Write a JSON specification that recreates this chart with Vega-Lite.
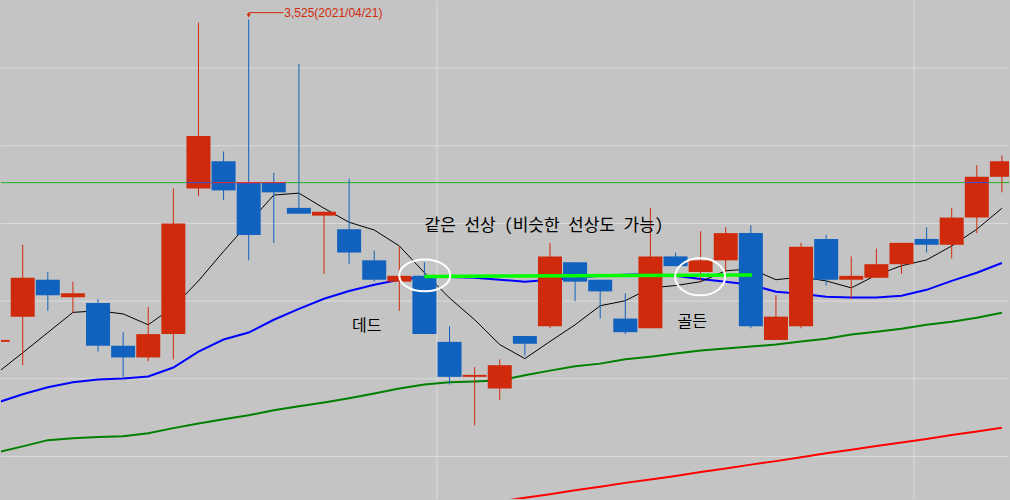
{
  "$schema": "https://vega.github.io/schema/vega-lite/v6.json",
  "description": "Candlestick chart with 5/20/60/120 moving averages and dead/golden cross notes",
  "width": 1010,
  "height": 500,
  "autosize": {"type": "fit", "contains": "padding"},
  "padding": 0,
  "background": "#c4c4c4",
  "config": {"view": {"stroke": null}},
  "datasets": {
    "candles": [
      {"i": 0, "o": 2695, "h": 2700, "l": 2695, "c": 2700, "m5": 2616, "m20": 2539, "m60": 2411},
      {"i": 1, "o": 2760, "h": 2945, "l": 2635, "c": 2860, "m5": 2667, "m20": 2560, "m60": 2426},
      {"i": 2, "o": 2855, "h": 2875, "l": 2775, "c": 2815, "m5": 2719, "m20": 2578, "m60": 2442},
      {"i": 3, "o": 2810, "h": 2850, "l": 2770, "c": 2820, "m5": 2771, "m20": 2591, "m60": 2447},
      {"i": 4, "o": 2795, "h": 2805, "l": 2670, "c": 2685, "m5": 2775, "m20": 2598, "m60": 2450},
      {"i": 5, "o": 2685, "h": 2720, "l": 2605, "c": 2655, "m5": 2767, "m20": 2601, "m60": 2452},
      {"i": 6, "o": 2655, "h": 2785, "l": 2645, "c": 2715, "m5": 2739, "m20": 2606, "m60": 2460},
      {"i": 7, "o": 2715, "h": 3090, "l": 2650, "c": 3000, "m5": 2785, "m20": 2629, "m60": 2473},
      {"i": 8, "o": 3090, "h": 3517, "l": 3070, "c": 3225, "m5": 2852, "m20": 2670, "m60": 2485},
      {"i": 9, "o": 3160, "h": 3185, "l": 3060, "c": 3085, "m5": 2928, "m20": 2701, "m60": 2496},
      {"i": 10, "o": 3105, "h": 3525, "l": 2905, "c": 2970, "m5": 3001, "m20": 2719, "m60": 2506},
      {"i": 11, "o": 3105, "h": 3130, "l": 2950, "c": 3080, "m5": 3073, "m20": 2752, "m60": 2519},
      {"i": 12, "o": 3040, "h": 3410, "l": 3025, "c": 3025, "m5": 3078, "m20": 2780, "m60": 2529},
      {"i": 13, "o": 3020, "h": 3030, "l": 2870, "c": 3030, "m5": 3039, "m20": 2806, "m60": 2539},
      {"i": 14, "o": 2985, "h": 3115, "l": 2895, "c": 2925, "m5": 3003, "m20": 2826, "m60": 2550},
      {"i": 15, "o": 2905, "h": 2930, "l": 2850, "c": 2855, "m5": 2983, "m20": 2842, "m60": 2562},
      {"i": 16, "o": 2850, "h": 2940, "l": 2775, "c": 2865, "m5": 2942, "m20": 2855, "m60": 2575},
      {"i": 17, "o": 2865, "h": 2900, "l": 2715, "c": 2715, "m5": 2873, "m20": 2862, "m60": 2585},
      {"i": 18, "o": 2695, "h": 2735, "l": 2585, "c": 2605, "m5": 2808, "m20": 2862, "m60": 2591},
      {"i": 19, "o": 2605, "h": 2630, "l": 2480, "c": 2610, "m5": 2752, "m20": 2860, "m60": 2593},
      {"i": 20, "o": 2575, "h": 2650, "l": 2545, "c": 2635, "m5": 2688, "m20": 2855, "m60": 2596, "m120": 2284},
      {"i": 21, "o": 2710, "h": 2710, "l": 2660, "c": 2690, "m5": 2652, "m20": 2850, "m60": 2609, "m120": 2294},
      {"i": 22, "o": 2735, "h": 2950, "l": 2730, "c": 2915, "m5": 2696, "m20": 2855, "m60": 2621, "m120": 2303},
      {"i": 23, "o": 2900, "h": 2900, "l": 2800, "c": 2850, "m5": 2739, "m20": 2860, "m60": 2632, "m120": 2313},
      {"i": 24, "o": 2855, "h": 2855, "l": 2755, "c": 2825, "m5": 2788, "m20": 2865, "m60": 2639, "m120": 2322},
      {"i": 25, "o": 2755, "h": 2820, "l": 2715, "c": 2720, "m5": 2801, "m20": 2868, "m60": 2650, "m120": 2332},
      {"i": 26, "o": 2730, "h": 3040, "l": 2730, "c": 2915, "m5": 2834, "m20": 2870, "m60": 2657, "m120": 2341},
      {"i": 27, "o": 2915, "h": 2925, "l": 2890, "c": 2890, "m5": 2840, "m20": 2865, "m60": 2665, "m120": 2350},
      {"i": 28, "o": 2875, "h": 2980, "l": 2850, "c": 2905, "m5": 2850, "m20": 2857, "m60": 2673, "m120": 2360},
      {"i": 29, "o": 2905, "h": 2990, "l": 2875, "c": 2975, "m5": 2878, "m20": 2850, "m60": 2678, "m120": 2369},
      {"i": 30, "o": 2975, "h": 2995, "l": 2730, "c": 2735, "m5": 2883, "m20": 2842, "m60": 2683, "m120": 2379},
      {"i": 31, "o": 2700, "h": 2815, "l": 2700, "c": 2760, "m5": 2855, "m20": 2824, "m60": 2688, "m120": 2388},
      {"i": 32, "o": 2735, "h": 2950, "l": 2730, "c": 2940, "m5": 2862, "m20": 2819, "m60": 2696, "m120": 2398},
      {"i": 33, "o": 2960, "h": 2970, "l": 2840, "c": 2855, "m5": 2852, "m20": 2811, "m60": 2703, "m120": 2408},
      {"i": 34, "o": 2855, "h": 2915, "l": 2805, "c": 2865, "m5": 2834, "m20": 2809, "m60": 2714, "m120": 2417},
      {"i": 35, "o": 2860, "h": 2935, "l": 2860, "c": 2895, "m5": 2867, "m20": 2809, "m60": 2721, "m120": 2427},
      {"i": 36, "o": 2895, "h": 2950, "l": 2870, "c": 2950, "m5": 2891, "m20": 2814, "m60": 2729, "m120": 2436},
      {"i": 37, "o": 2960, "h": 2990, "l": 2925, "c": 2945, "m5": 2906, "m20": 2829, "m60": 2739, "m120": 2445},
      {"i": 38, "o": 2945, "h": 3040, "l": 2910, "c": 3015, "m5": 2942, "m20": 2852, "m60": 2747, "m120": 2455},
      {"i": 39, "o": 3015, "h": 3150, "l": 2975, "c": 3120, "m5": 2985, "m20": 2873, "m60": 2757, "m120": 2464},
      {"i": 40, "o": 3120, "h": 3175, "l": 3080, "c": 3160, "m5": 3039, "m20": 2898, "m60": 2770, "m120": 2474}
    ],
    "hgrid": [{"p": 2400}, {"p": 2600}, {"p": 2800}, {"p": 3000}, {"p": 3200}, {"p": 3400}],
    "vgrid": [{"i": 17.5}, {"i": 36.5}],
    "level": [{"i": 17.0, "p": 2863.6}, {"i": 30.05, "p": 2867.5}],
    "leader": [
      {"i": 10, "i2": 11.38, "p": 3542.6, "p2": 3542.6},
      {"i": 10, "i2": 10, "p": 3542.6, "p2": 3537}
    ]
  },
  "layer": [
    {
      "data": {"name": "hgrid"},
      "mark": {"type": "rule", "color": "#dcdcdc", "strokeWidth": 1},
      "encoding": {
        "y": {"field": "p", "type": "quantitative", "scale": {"domain": [2290.5, 3572.6], "nice": false, "zero": false}, "axis": null}
      }
    },
    {
      "data": {"name": "vgrid"},
      "mark": {"type": "rule", "color": "#dcdcdc", "strokeWidth": 1},
      "encoding": {
        "x": {"field": "i", "type": "quantitative", "scale": {"domain": [0.3345, 40.083], "nice": false, "zero": false}, "axis": null}
      }
    },
    {
      "data": {"values": [{"p": 3105}]},
      "mark": {"type": "rule", "color": "#22b422", "strokeWidth": 1},
      "encoding": {
        "y": {"field": "p", "type": "quantitative", "scale": {"domain": [2290.5, 3572.6], "nice": false, "zero": false}, "axis": null}
      }
    },
    {
      "data": {"name": "candles"},
      "transform": [{"filter": "isValid(datum.m120)"}],
      "mark": {"type": "line", "color": "#ff0000", "strokeWidth": 2, "clip": true},
      "encoding": {
        "x": {"field": "i", "type": "quantitative", "scale": {"domain": [0.3345, 40.083], "nice": false, "zero": false}, "axis": null},
        "y": {"field": "m120", "type": "quantitative", "scale": {"domain": [2290.5, 3572.6], "nice": false, "zero": false}, "axis": null}
      }
    },
    {
      "data": {"name": "candles"},
      "mark": {"type": "line", "color": "#008000", "strokeWidth": 2, "clip": true},
      "encoding": {
        "x": {"field": "i", "type": "quantitative", "scale": {"domain": [0.3345, 40.083], "nice": false, "zero": false}, "axis": null},
        "y": {"field": "m60", "type": "quantitative", "scale": {"domain": [2290.5, 3572.6], "nice": false, "zero": false}, "axis": null}
      }
    },
    {
      "data": {"name": "candles"},
      "mark": {"type": "line", "color": "#0000ff", "strokeWidth": 2, "clip": true},
      "encoding": {
        "x": {"field": "i", "type": "quantitative", "scale": {"domain": [0.3345, 40.083], "nice": false, "zero": false}, "axis": null},
        "y": {"field": "m20", "type": "quantitative", "scale": {"domain": [2290.5, 3572.6], "nice": false, "zero": false}, "axis": null}
      }
    },
    {
      "data": {"name": "candles"},
      "mark": {"type": "line", "color": "#000000", "strokeWidth": 1, "clip": true},
      "encoding": {
        "x": {"field": "i", "type": "quantitative", "scale": {"domain": [0.3345, 40.083], "nice": false, "zero": false}, "axis": null},
        "y": {"field": "m5", "type": "quantitative", "scale": {"domain": [2290.5, 3572.6], "nice": false, "zero": false}, "axis": null}
      }
    },
    {
      "data": {"name": "candles"},
      "mark": {"type": "rule", "strokeWidth": 1, "clip": true},
      "encoding": {
        "x": {"field": "i", "type": "quantitative", "scale": {"domain": [0.3345, 40.083], "nice": false, "zero": false}, "axis": null},
        "y": {"field": "l", "type": "quantitative", "scale": {"domain": [2290.5, 3572.6], "nice": false, "zero": false}, "axis": null},
        "y2": {"field": "h"},
        "color": {"condition": {"test": "datum.c > datum.o", "value": "#d02a0c"}, "value": "#1062be"}
      }
    },
    {
      "data": {"name": "candles"},
      "mark": {"type": "bar", "width": 24, "clip": true},
      "encoding": {
        "x": {"field": "i", "type": "quantitative", "scale": {"domain": [0.3345, 40.083], "nice": false, "zero": false}, "axis": null},
        "y": {"field": "o", "type": "quantitative", "scale": {"domain": [2290.5, 3572.6], "nice": false, "zero": false}, "axis": null},
        "y2": {"field": "c"},
        "color": {"condition": {"test": "datum.c > datum.o", "value": "#d02a0c"}, "value": "#1062be"}
      }
    },
    {
      "data": {"name": "candles"},
      "transform": [{"filter": "min(datum.o, datum.c) <= 3105 && max(datum.o, datum.c) >= 3105"}],
      "mark": {"type": "bar", "width": 24, "clip": true},
      "encoding": {
        "x": {"field": "i", "type": "quantitative", "scale": {"domain": [0.3345, 40.083], "nice": false, "zero": false}, "axis": null},
        "y": {"datum": 3106.3, "type": "quantitative", "scale": {"domain": [2290.5, 3572.6], "nice": false, "zero": false}, "axis": null},
        "y2": {"datum": 3103.7},
        "color": {"condition": {"test": "datum.c > datum.o", "value": "#3355dd"}, "value": "#e8283c"}
      }
    },
    {
      "data": {"name": "level"},
      "mark": {"type": "line", "color": "#00ff00", "strokeWidth": 3.5},
      "encoding": {
        "x": {"field": "i", "type": "quantitative", "scale": {"domain": [0.3345, 40.083], "nice": false, "zero": false}, "axis": null},
        "y": {"field": "p", "type": "quantitative", "scale": {"domain": [2290.5, 3572.6], "nice": false, "zero": false}, "axis": null}
      }
    },
    {
      "data": {"values": [{"i": 17.01, "p": 2866.2}]},
      "mark": {"type": "point", "filled": false, "stroke": "#ffffff", "strokeWidth": 2, "opacity": 1, "size": 2601, "shape": "M -1 0 A 1 0.627 0 1 1 1 0 A 1 0.627 0 1 1 -1 0 Z"},
      "encoding": {
        "x": {"field": "i", "type": "quantitative", "scale": {"domain": [0.3345, 40.083], "nice": false, "zero": false}, "axis": null},
        "y": {"field": "p", "type": "quantitative", "scale": {"domain": [2290.5, 3572.6], "nice": false, "zero": false}, "axis": null}
      }
    },
    {
      "data": {"values": [{"i": 27.98, "p": 2862.4}]},
      "mark": {"type": "point", "filled": false, "stroke": "#ffffff", "strokeWidth": 2, "opacity": 1, "size": 2500, "shape": "M -1 0 A 1 0.74 0 1 1 1 0 A 1 0.74 0 1 1 -1 0 Z"},
      "encoding": {
        "x": {"field": "i", "type": "quantitative", "scale": {"domain": [0.3345, 40.083], "nice": false, "zero": false}, "axis": null},
        "y": {"field": "p", "type": "quantitative", "scale": {"domain": [2290.5, 3572.6], "nice": false, "zero": false}, "axis": null}
      }
    },
    {
      "data": {"values": [{"i": 21.76, "p": 2993, "t": "같은 선상 (비슷한 선상도 가능)"}]},
      "mark": {"type": "text", "font": "'Noto Sans Mono CJK KR', 'Noto Sans CJK KR', sans-serif", "fontSize": 17, "color": "#000000", "align": "center", "baseline": "middle"},
      "encoding": {
        "x": {"field": "i", "type": "quantitative", "scale": {"domain": [0.3345, 40.083], "nice": false, "zero": false}, "axis": null},
        "y": {"field": "p", "type": "quantitative", "scale": {"domain": [2290.5, 3572.6], "nice": false, "zero": false}, "axis": null},
        "text": {"field": "t"}
      }
    },
    {
      "data": {"values": [{"i": 14.7, "p": 2735, "t": "데드"}, {"i": 27.67, "p": 2746, "t": "골든"}]},
      "mark": {"type": "text", "font": "'Noto Sans Mono CJK KR', 'Noto Sans CJK KR', sans-serif", "fontSize": 16, "color": "#000000", "align": "center", "baseline": "middle"},
      "encoding": {
        "x": {"field": "i", "type": "quantitative", "scale": {"domain": [0.3345, 40.083], "nice": false, "zero": false}, "axis": null},
        "y": {"field": "p", "type": "quantitative", "scale": {"domain": [2290.5, 3572.6], "nice": false, "zero": false}, "axis": null},
        "text": {"field": "t"}
      }
    },
    {
      "data": {"name": "leader"},
      "mark": {"type": "rule", "color": "#d02a0c", "strokeWidth": 1},
      "encoding": {
        "x": {"field": "i", "type": "quantitative", "scale": {"domain": [0.3345, 40.083], "nice": false, "zero": false}, "axis": null},
        "x2": {"field": "i2"},
        "y": {"field": "p", "type": "quantitative", "scale": {"domain": [2290.5, 3572.6], "nice": false, "zero": false}, "axis": null},
        "y2": {"field": "p2"}
      }
    },
    {
      "data": {"values": [{"i": 10, "p": 3535}]},
      "mark": {"type": "point", "shape": "triangle-down", "filled": true, "color": "#d02a0c", "opacity": 1, "size": 18},
      "encoding": {
        "x": {"field": "i", "type": "quantitative", "scale": {"domain": [0.3345, 40.083], "nice": false, "zero": false}, "axis": null},
        "y": {"field": "p", "type": "quantitative", "scale": {"domain": [2290.5, 3572.6], "nice": false, "zero": false}, "axis": null}
      }
    },
    {
      "data": {"values": [{"i": 11.42, "p": 3542.6, "t": "3,525(2021/04/21)"}]},
      "mark": {"type": "text", "font": "Liberation Sans", "fontSize": 12, "color": "#d02a0c", "align": "left", "baseline": "middle"},
      "encoding": {
        "x": {"field": "i", "type": "quantitative", "scale": {"domain": [0.3345, 40.083], "nice": false, "zero": false}, "axis": null},
        "y": {"field": "p", "type": "quantitative", "scale": {"domain": [2290.5, 3572.6], "nice": false, "zero": false}, "axis": null},
        "text": {"field": "t"}
      }
    }
  ]
}
